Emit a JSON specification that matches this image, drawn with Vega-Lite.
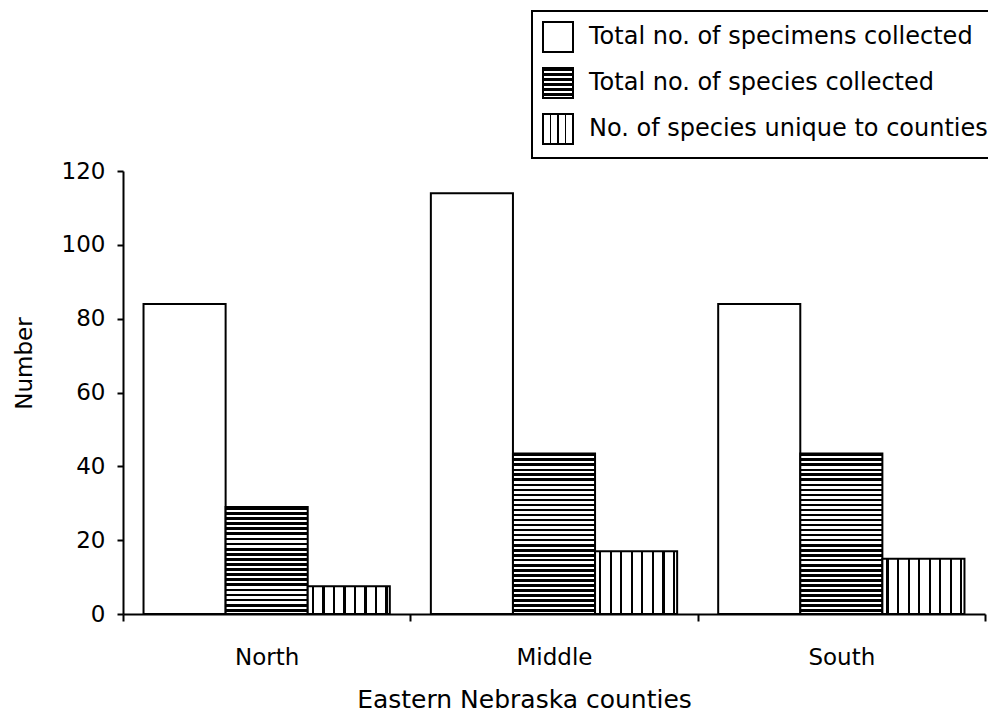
{
  "$schema": "https://vega.github.io/schema/vega-lite/v6.json",
  "width": 862,
  "height": 443,
  "autosize": "none",
  "padding": {"left": 123, "top": 171, "right": 3, "bottom": 111},
  "background": "white",
  "config": {
    "view": {"stroke": null},
    "font": "DejaVu Sans",
    "legend": {"strokeWidth": 2}
  },
  "data": {
    "values": [
      {"county": "North", "series": "Total no. of specimens collected", "value": 84},
      {"county": "North", "series": "Total no. of species collected", "value": 29},
      {"county": "North", "series": "No. of species unique to counties", "value": 7.5},
      {"county": "Middle", "series": "Total no. of specimens collected", "value": 114},
      {"county": "Middle", "series": "Total no. of species collected", "value": 43.5},
      {"county": "Middle", "series": "No. of species unique to counties", "value": 17},
      {"county": "South", "series": "Total no. of specimens collected", "value": 84},
      {"county": "South", "series": "Total no. of species collected", "value": 43.5},
      {"county": "South", "series": "No. of species unique to counties", "value": 15}
    ]
  },
  "mark": {
    "type": "bar",
    "strokeWidth": 2,
    "fill": {"expr": "datum.series === 'Total no. of species collected' ? (datum.county === 'North' ? {gradient:'linear',x1:0,y1:0,x2:0,y2:1,stops:[{offset:0.026,color:'#000'},{offset:0.026,color:'#fff'},{offset:0.048,color:'#fff'},{offset:0.048,color:'#000'},{offset:0.074,color:'#000'},{offset:0.074,color:'#fff'},{offset:0.095,color:'#fff'},{offset:0.095,color:'#000'},{offset:0.121,color:'#000'},{offset:0.121,color:'#fff'},{offset:0.143,color:'#fff'},{offset:0.143,color:'#000'},{offset:0.169,color:'#000'},{offset:0.169,color:'#fff'},{offset:0.19,color:'#fff'},{offset:0.19,color:'#000'},{offset:0.217,color:'#000'},{offset:0.217,color:'#fff'},{offset:0.238,color:'#fff'},{offset:0.238,color:'#000'},{offset:0.264,color:'#000'},{offset:0.264,color:'#fff'},{offset:0.286,color:'#fff'},{offset:0.286,color:'#000'},{offset:0.312,color:'#000'},{offset:0.312,color:'#fff'},{offset:0.333,color:'#fff'},{offset:0.333,color:'#000'},{offset:0.36,color:'#000'},{offset:0.36,color:'#fff'},{offset:0.381,color:'#fff'},{offset:0.381,color:'#000'},{offset:0.407,color:'#000'},{offset:0.407,color:'#fff'},{offset:0.429,color:'#fff'},{offset:0.429,color:'#000'},{offset:0.455,color:'#000'},{offset:0.455,color:'#fff'},{offset:0.476,color:'#fff'},{offset:0.476,color:'#000'},{offset:0.502,color:'#000'},{offset:0.502,color:'#fff'},{offset:0.524,color:'#fff'},{offset:0.524,color:'#000'},{offset:0.55,color:'#000'},{offset:0.55,color:'#fff'},{offset:0.571,color:'#fff'},{offset:0.571,color:'#000'},{offset:0.598,color:'#000'},{offset:0.598,color:'#fff'},{offset:0.619,color:'#fff'},{offset:0.619,color:'#000'},{offset:0.645,color:'#000'},{offset:0.645,color:'#fff'},{offset:0.667,color:'#fff'},{offset:0.667,color:'#000'},{offset:0.693,color:'#000'},{offset:0.693,color:'#fff'},{offset:0.714,color:'#fff'},{offset:0.714,color:'#000'},{offset:0.74,color:'#000'},{offset:0.74,color:'#fff'},{offset:0.762,color:'#fff'},{offset:0.762,color:'#000'},{offset:0.788,color:'#000'},{offset:0.788,color:'#fff'},{offset:0.81,color:'#fff'},{offset:0.81,color:'#000'},{offset:0.836,color:'#000'},{offset:0.836,color:'#fff'},{offset:0.857,color:'#fff'},{offset:0.857,color:'#000'},{offset:0.883,color:'#000'},{offset:0.883,color:'#fff'},{offset:0.905,color:'#fff'},{offset:0.905,color:'#000'},{offset:0.931,color:'#000'},{offset:0.931,color:'#fff'},{offset:0.952,color:'#fff'},{offset:0.952,color:'#000'},{offset:0.979,color:'#000'},{offset:0.979,color:'#fff'},{offset:1,color:'#fff'}]} : {gradient:'linear',x1:0,y1:0,x2:0,y2:1,stops:[{offset:0.017,color:'#000'},{offset:0.017,color:'#fff'},{offset:0.031,color:'#fff'},{offset:0.031,color:'#000'},{offset:0.048,color:'#000'},{offset:0.048,color:'#fff'},{offset:0.0625,color:'#fff'},{offset:0.0625,color:'#000'},{offset:0.08,color:'#000'},{offset:0.08,color:'#fff'},{offset:0.094,color:'#fff'},{offset:0.094,color:'#000'},{offset:0.111,color:'#000'},{offset:0.111,color:'#fff'},{offset:0.125,color:'#fff'},{offset:0.125,color:'#000'},{offset:0.142,color:'#000'},{offset:0.142,color:'#fff'},{offset:0.156,color:'#fff'},{offset:0.156,color:'#000'},{offset:0.173,color:'#000'},{offset:0.173,color:'#fff'},{offset:0.1875,color:'#fff'},{offset:0.1875,color:'#000'},{offset:0.205,color:'#000'},{offset:0.205,color:'#fff'},{offset:0.219,color:'#fff'},{offset:0.219,color:'#000'},{offset:0.236,color:'#000'},{offset:0.236,color:'#fff'},{offset:0.25,color:'#fff'},{offset:0.25,color:'#000'},{offset:0.267,color:'#000'},{offset:0.267,color:'#fff'},{offset:0.281,color:'#fff'},{offset:0.281,color:'#000'},{offset:0.298,color:'#000'},{offset:0.298,color:'#fff'},{offset:0.3125,color:'#fff'},{offset:0.3125,color:'#000'},{offset:0.33,color:'#000'},{offset:0.33,color:'#fff'},{offset:0.344,color:'#fff'},{offset:0.344,color:'#000'},{offset:0.361,color:'#000'},{offset:0.361,color:'#fff'},{offset:0.375,color:'#fff'},{offset:0.375,color:'#000'},{offset:0.392,color:'#000'},{offset:0.392,color:'#fff'},{offset:0.406,color:'#fff'},{offset:0.406,color:'#000'},{offset:0.423,color:'#000'},{offset:0.423,color:'#fff'},{offset:0.4375,color:'#fff'},{offset:0.4375,color:'#000'},{offset:0.455,color:'#000'},{offset:0.455,color:'#fff'},{offset:0.469,color:'#fff'},{offset:0.469,color:'#000'},{offset:0.486,color:'#000'},{offset:0.486,color:'#fff'},{offset:0.5,color:'#fff'},{offset:0.5,color:'#000'},{offset:0.517,color:'#000'},{offset:0.517,color:'#fff'},{offset:0.531,color:'#fff'},{offset:0.531,color:'#000'},{offset:0.548,color:'#000'},{offset:0.548,color:'#fff'},{offset:0.5625,color:'#fff'},{offset:0.5625,color:'#000'},{offset:0.58,color:'#000'},{offset:0.58,color:'#fff'},{offset:0.594,color:'#fff'},{offset:0.594,color:'#000'},{offset:0.611,color:'#000'},{offset:0.611,color:'#fff'},{offset:0.625,color:'#fff'},{offset:0.625,color:'#000'},{offset:0.642,color:'#000'},{offset:0.642,color:'#fff'},{offset:0.656,color:'#fff'},{offset:0.656,color:'#000'},{offset:0.673,color:'#000'},{offset:0.673,color:'#fff'},{offset:0.6875,color:'#fff'},{offset:0.6875,color:'#000'},{offset:0.705,color:'#000'},{offset:0.705,color:'#fff'},{offset:0.719,color:'#fff'},{offset:0.719,color:'#000'},{offset:0.736,color:'#000'},{offset:0.736,color:'#fff'},{offset:0.75,color:'#fff'},{offset:0.75,color:'#000'},{offset:0.767,color:'#000'},{offset:0.767,color:'#fff'},{offset:0.781,color:'#fff'},{offset:0.781,color:'#000'},{offset:0.798,color:'#000'},{offset:0.798,color:'#fff'},{offset:0.8125,color:'#fff'},{offset:0.8125,color:'#000'},{offset:0.83,color:'#000'},{offset:0.83,color:'#fff'},{offset:0.844,color:'#fff'},{offset:0.844,color:'#000'},{offset:0.861,color:'#000'},{offset:0.861,color:'#fff'},{offset:0.875,color:'#fff'},{offset:0.875,color:'#000'},{offset:0.892,color:'#000'},{offset:0.892,color:'#fff'},{offset:0.906,color:'#fff'},{offset:0.906,color:'#000'},{offset:0.923,color:'#000'},{offset:0.923,color:'#fff'},{offset:0.9375,color:'#fff'},{offset:0.9375,color:'#000'},{offset:0.955,color:'#000'},{offset:0.955,color:'#fff'},{offset:0.969,color:'#fff'},{offset:0.969,color:'#000'},{offset:0.986,color:'#000'},{offset:0.986,color:'#fff'},{offset:1,color:'#fff'}]}) : datum.series === 'No. of species unique to counties' ? {gradient:'linear',x1:0,y1:0,x2:1,y2:0,stops:[{offset:0.05,color:'#fff'},{offset:0.05,color:'#000'},{offset:0.078,color:'#000'},{offset:0.078,color:'#fff'},{offset:0.178,color:'#fff'},{offset:0.178,color:'#000'},{offset:0.206,color:'#000'},{offset:0.206,color:'#fff'},{offset:0.306,color:'#fff'},{offset:0.306,color:'#000'},{offset:0.334,color:'#000'},{offset:0.334,color:'#fff'},{offset:0.434,color:'#fff'},{offset:0.434,color:'#000'},{offset:0.462,color:'#000'},{offset:0.462,color:'#fff'},{offset:0.562,color:'#fff'},{offset:0.562,color:'#000'},{offset:0.59,color:'#000'},{offset:0.59,color:'#fff'},{offset:0.69,color:'#fff'},{offset:0.69,color:'#000'},{offset:0.718,color:'#000'},{offset:0.718,color:'#fff'},{offset:0.818,color:'#fff'},{offset:0.818,color:'#000'},{offset:0.846,color:'#000'},{offset:0.846,color:'#fff'},{offset:0.946,color:'#fff'},{offset:0.946,color:'#000'},{offset:0.974,color:'#000'},{offset:0.974,color:'#fff'}]} : datum.value === 'Total no. of species collected' ? {gradient:'linear',x1:0,y1:0,x2:0,y2:1,stops:[{offset:0.092,color:'#000'},{offset:0.092,color:'#fff'},{offset:0.167,color:'#fff'},{offset:0.167,color:'#000'},{offset:0.258,color:'#000'},{offset:0.258,color:'#fff'},{offset:0.333,color:'#fff'},{offset:0.333,color:'#000'},{offset:0.425,color:'#000'},{offset:0.425,color:'#fff'},{offset:0.5,color:'#fff'},{offset:0.5,color:'#000'},{offset:0.592,color:'#000'},{offset:0.592,color:'#fff'},{offset:0.667,color:'#fff'},{offset:0.667,color:'#000'},{offset:0.758,color:'#000'},{offset:0.758,color:'#fff'},{offset:0.833,color:'#fff'},{offset:0.833,color:'#000'},{offset:0.925,color:'#000'},{offset:0.925,color:'#fff'},{offset:1,color:'#fff'}]} : datum.value === 'No. of species unique to counties' ? {gradient:'linear',x1:0,y1:0,x2:1,y2:0,stops:[{offset:0.22,color:'#fff'},{offset:0.22,color:'#000'},{offset:0.28,color:'#000'},{offset:0.28,color:'#fff'},{offset:0.47,color:'#fff'},{offset:0.47,color:'#000'},{offset:0.53,color:'#000'},{offset:0.53,color:'#fff'},{offset:0.72,color:'#fff'},{offset:0.72,color:'#000'},{offset:0.78,color:'#000'},{offset:0.78,color:'#fff'}]} : 'white'"}
  },
  "encoding": {
    "x": {
      "field": "county",
      "type": "nominal",
      "sort": ["North", "Middle", "South"],
      "scale": {"paddingInner": 0, "paddingOuter": 0},
      "axis": {
        "title": "Eastern Nebraska counties",
        "labelAngle": 0,
        "tickBand": "extent",
        "domainColor": "black",
        "domainWidth": 2,
        "tickColor": "black",
        "tickWidth": 2,
        "tickSize": 7,
        "labelFontSize": 23,
        "labelColor": "black",
        "labelPadding": 25,
        "titleFontSize": 25,
        "titleFontWeight": "normal",
        "titleColor": "black",
        "titlePadding": 18,
        "titleX": 401
      }
    },
    "xOffset": {
      "field": "series",
      "type": "nominal",
      "sort": ["Total no. of specimens collected", "Total no. of species collected", "No. of species unique to counties"],
      "scale": {"paddingInner": 0, "paddingOuter": 0.25}
    },
    "y": {
      "field": "value",
      "type": "quantitative",
      "scale": {"domain": [0, 120], "nice": false},
      "axis": {
        "values": [0, 20, 40, 60, 80, 100, 120],
        "title": "Number",
        "grid": false,
        "domainColor": "black",
        "domainWidth": 2,
        "tickColor": "black",
        "tickWidth": 2,
        "tickSize": 6,
        "labelFontSize": 23,
        "labelColor": "black",
        "labelPadding": 12,
        "titleFontSize": 23,
        "titleFontWeight": "normal",
        "titleColor": "black",
        "titlePadding": 25,
        "titleY": 192
      }
    },
    "stroke": {
      "field": "series",
      "type": "nominal",
      "sort": ["Total no. of specimens collected", "Total no. of species collected", "No. of species unique to counties"],
      "scale": {"range": ["black", "black", "black"]},
      "legend": {
        "title": null,
        "orient": "none",
        "legendX": 409,
        "legendY": -160,
        "symbolType": "square",
        "symbolSize": 900,
        "symbolStrokeColor": "black",
        "symbolStrokeWidth": 2,
        "labelFontSize": 24,
        "labelColor": "black",
        "labelLimit": 1000,
        "rowPadding": 8,
        "labelOffset": 15,
        "padding": 10,
        "strokeColor": "black",
        "fillColor": "white"
      }
    }
  }
}
